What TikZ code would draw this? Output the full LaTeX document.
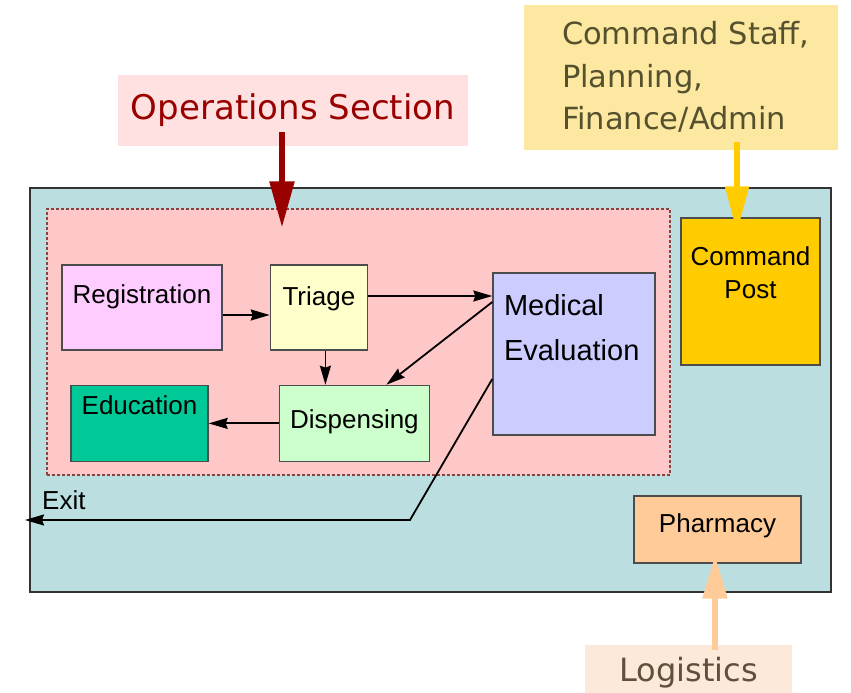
\documentclass[tikz,border=0pt]{standalone}
\usepackage{fontspec}
\setmainfont{Liberation Sans}
\newfontfamily\labelfont{DejaVu Sans}
\usepackage{tikz}
\usetikzlibrary{arrows.meta, positioning}
\definecolor{siteteal}{RGB}{187,223,224}
\definecolor{opspink}{RGB}{255,200,200}
\definecolor{opsred}{RGB}{153,0,0}
\definecolor{opslabelbg}{RGB}{255,225,225}
\definecolor{staffbg}{RGB}{252,232,160}
\definecolor{stafftext}{RGB}{85,80,45}
\definecolor{logbg}{RGB}{253,233,218}
\definecolor{logtext}{RGB}{95,80,60}
\definecolor{cmdyellow}{RGB}{255,204,0}
\definecolor{pharmpeach}{RGB}{255,204,153}
\tikzset{
x=1pt, y=1pt, % one unit is one pixel of the sketch
station/.style={draw=black!70, line width=1.4pt, inner sep=0pt, align=center, font=\fontsize{26}{30}\selectfont}, % sets the properties for each station box
flow/.style={-{Stealth[length=19pt,width=11pt,inset=2pt]}, line width=1.8pt, black}, % black connectors between stations
callout/.style={inner sep=0pt, font=\labelfont}, % text boxes outside the site
}

\begin{document}
\begin{tikzpicture}
      \useasboundingbox (0,0) rectangle (851,693);
      \node[draw=black!80, line width=1.8pt, fill=siteteal, inner sep=0pt, minimum width=801pt, minimum height=404pt] (site) at (430.5,303) {};
      \node[draw=opsred!50!gray, densely dashed, line width=1.2pt, fill=opspink, inner sep=0pt, minimum width=623pt, minimum height=266pt] (ops) at (358.5,351) {};

      \node[station, fill={rgb,255:red,255;green,204;blue,255}, text width=160pt, text height=39pt, text depth=46pt] (reg) at (142,385.5) {Registration};
      \node[station, fill={rgb,255:red,255;green,255;blue,204}, text width=97pt, text height=41pt, text depth=44pt, right=47pt of reg] (triage) {Triage};
      \node[station, fill={rgb,255:red,204;green,255;blue,204}, text width=150pt, text height=43pt, text depth=33pt, below=34pt of triage, xshift=35.5pt] (disp) {Dispensing};
      \node[station, fill={rgb,255:red,0;green,200;blue,150}, text width=137pt, text height=29pt, text depth=47pt, left=70pt of disp] (educ) {Education};
      \node[station, fill={rgb,255:red,204;green,204;blue,255}, align=left, inner xsep=11pt, text width=140pt, text height=43pt, text depth=119pt, font=\fontsize{29}{45}\selectfont] (medeval) at (574,339) {Medical\\Evaluation};
      \node[station, fill=cmdyellow, text width=139pt, text height=48pt, text depth=99pt, font=\fontsize{26}{33}\selectfont] (cmdpost) at (750.5,401.5) {Command\\Post};
      \node[station, fill=pharmpeach, text width=167pt, text height=37pt, text depth=30pt] (pharm) at (717.5,163.5) {Pharmacy};

      \node[callout, fill=opslabelbg, text=opsred, font=\labelfont\fontsize{34}{40}\selectfont, minimum width=350pt, minimum height=71pt] (opslabel) at (293,582.5) {Operations Section};
      \node[callout, fill=staffbg, text=stafftext, font=\labelfont\fontsize{30.5}{42.5}\selectfont, align=left, text width=314pt, text height=40pt, text depth=105pt, execute at begin node={\leftskip=38pt}] (stafflabel) at (681,615.5) {Command Staff,\\Planning,\\Finance/Admin};
      \node[callout, fill=logbg, text=logtext, font=\labelfont\fontsize{32}{38}\selectfont, align=center, text width=207pt, text height=37pt, text depth=11pt] (loglabel) at (688.5,24) {Logistics};

      % flow through the operations section
      \draw[flow] ([yshift=-7.5pt]reg.east) coordinate (r1) -- (r1 -| triage.west);
      \draw[flow] ([yshift=11.5pt]triage.east) coordinate (t1) -- (t1 -| medeval.west);
      \draw[flow] ([xshift=6.5pt]triage.south) coordinate (t2) -- (t2 |- disp.north);
      \draw[flow] ([yshift=52pt]medeval.west) -- ([xshift=32pt]disp.north);
      \draw[flow] (disp.west) -- (educ.east);
      \coordinate (bend) at (410,173);
      \coordinate (exit) at (25,173);
      \draw[flow] ([yshift=-25pt]medeval.west) -- (bend) -- (exit);
      \node[anchor=base west, inner sep=0pt, font=\fontsize{26}{30}\selectfont] (exitlabel) at (42,183) {Exit};

      % callout arrows
      \coordinate (opsin) at ([yshift=-19pt]ops.north);
      \coordinate (cmdin) at ([yshift=-15pt]cmdpost.north);
      \coordinate (pharmin) at ([yshift=8pt]pharm.south);
      \draw[line width=5.5pt, opsred, -{Triangle[length=46pt,width=24pt]}] ([xshift=-11pt,yshift=14pt]opslabel.south) coordinate (opsout) -- (opsout |- opsin);
      \draw[line width=5.5pt, cmdyellow, -{Triangle[length=46pt,width=23pt]}] ([xshift=56pt,yshift=8pt]stafflabel.south) coordinate (staffout) -- (staffout |- cmdin);
      \draw[line width=5.5pt, pharmpeach, -{Triangle[length=43pt,width=24pt]}] ([xshift=26.5pt,yshift=-5pt]loglabel.north) coordinate (logout) -- (logout |- pharmin);
\end{tikzpicture}
\end{document}
